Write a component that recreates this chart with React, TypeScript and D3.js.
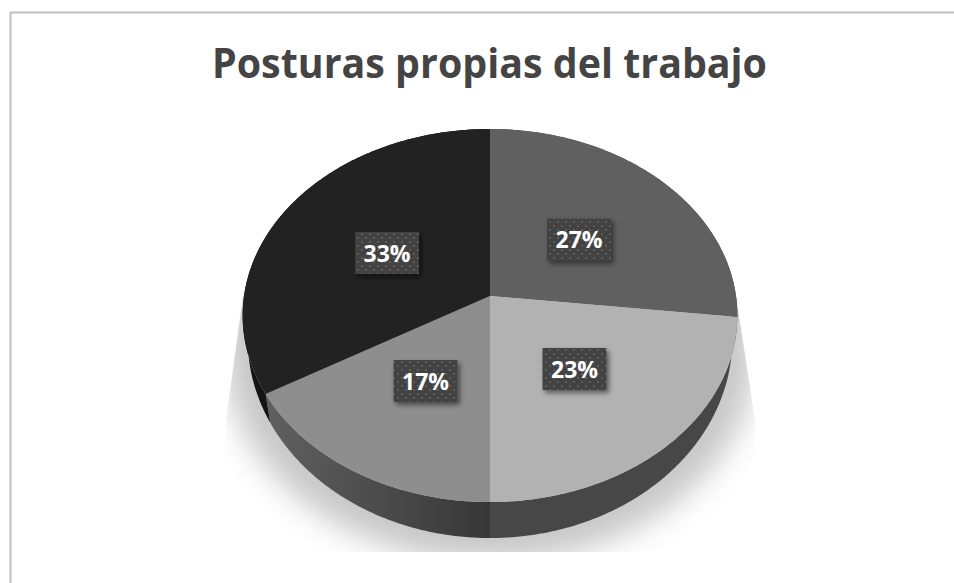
import React from "react";
import * as d3 from "d3";

const categories = ["A", "B", "C", "D"];
const shares = [26.8, 23.2, 16.6, 33.4];
const topColors = ["#606060", "#b2b2b2", "#8e8e8e", "#222222"];
const sideFills = ["#474747", "#474747", "url(#sideGrad)", "#141414"];
const titleText = "Posturas propias del trabajo";

const W = 954, H = 583;
const cx = 490;
const k = 0.1046;
type Rim = { r: number; cy: number; s: number };
const topRim: Rim = { r: 246, cy: 296, s: 184.5 };
const baseRim: Rim = { r: 241, cy: 318, s: 197 };
const shadowRim: Rim = { r: 264, cy: 330, s: 208 };

const project = (rim: Rim, a: number): [number, number] => {
  const d = 1 + k * Math.cos(a);
  return [cx + (rim.r * Math.sin(a)) / d, rim.cy - (rim.s * Math.cos(a)) / d];
};
const samples = (a0: number, a1: number) => {
  const n = Math.max(2, Math.ceil(Math.abs(a1 - a0) / 0.01));
  return d3.range(n + 1).map((i) => a0 + ((a1 - a0) * i) / n);
};
const line = d3.line<[number, number]>().curve(d3.curveLinear);

const arcs = d3.pie<number>().sort(null)(shares);
const pct = d3.format(".0%");

const topPath = (a0: number, a1: number) =>
  line([[cx, topRim.cy], ...samples(a0, a1).map((a) => project(topRim, a))])! + "Z";
const sidePath = (a0: number, a1: number) =>
  line([
    ...samples(a0, a1).map((a) => project(topRim, a)),
    ...samples(a1, a0).map((a) => project(baseRim, a)),
  ])! + "Z";
const shadowPath =
  line(samples(0, Math.PI * 2).map((a) => project(shadowRim, a)))! + "Z";

const labelCentres: [number, number][] = [
  [579, 239.5],
  [574.5, 369],
  [425.5, 381],
  [387, 253],
];
const labelW = 64, labelH = 42;

export default function App() {
  return (
    <svg
      width={W}
      height={H}
      viewBox={`0 0 ${W} ${H}`}
      style={{ position: "absolute", left: 0, top: 0, display: "block", background: "#fff" }}
    >
      <defs>
        <linearGradient id="sideGrad" gradientUnits="userSpaceOnUse" x1={266} x2={490} y1={0} y2={0}>
          <stop offset="0" stopColor="#606060" />
          <stop offset="1" stopColor="#373737" />
        </linearGradient>
        <pattern id="dots" width={8} height={8} patternUnits="userSpaceOnUse">
          <rect width={8} height={8} fill="#424242" />
          <rect x={1} y={1} width={2} height={2} fill="#5c5c5c" />
          <rect x={5} y={5} width={2} height={2} fill="#5c5c5c" />
        </pattern>
        <filter id="blur" x="-20%" y="-20%" width="140%" height="140%">
          <feGaussianBlur stdDeviation={15} />
        </filter>
        <filter id="labelShadow" x="-30%" y="-30%" width="170%" height="170%">
          <feDropShadow dx={2.5} dy={3} stdDeviation={2.5} floodColor="#000" floodOpacity={0.5} />
        </filter>
        <clipPath id="shadowClip">
          <polygon points="243,296 226,420 226,552 755,552 755,420 736,296" />
        </clipPath>
      </defs>

      <rect x={0} y={0} width={W} height={H} fill="#fff" />
      <path d={`M10.5,${H}V12.5H${W}`} fill="none" stroke="#bfbfbf" strokeWidth={2} />

      <text
        x={212}
        y={78}
        fontFamily="'Open Sans'"
        fontWeight={700}
        fontSize={41}
        fill="#444444"
        textLength={555}
        lengthAdjust="spacingAndGlyphs"
      >
        {titleText}
      </text>

      <g clipPath="url(#shadowClip)">
        <path d={shadowPath} fill="#c8c8c8" filter="url(#blur)" />
      </g>

      {arcs.map((d, i) =>
        <path key={"s" + categories[i]} d={sidePath(d.startAngle, d.endAngle)} fill={sideFills[i]} />
      )}
      {arcs.map((d, i) =>
        <path key={"t" + categories[i]} d={topPath(d.startAngle, d.endAngle)} fill={topColors[i]} />
      )}

      {shares.map((v, i) => {
        const [x, y] = labelCentres[i];
        return (
          <g key={categories[i]}>
            <rect
              x={x - labelW / 2}
              y={y - labelH / 2}
              width={labelW}
              height={labelH}
              fill="url(#dots)"
              filter="url(#labelShadow)"
            />
            <text
              x={x}
              y={y + 8.5}
              textAnchor="middle"
              fontFamily="'Open Sans'"
              fontWeight={700}
              fontSize={23}
              fill="#fff"
            >
              {pct(v / 100)}
            </text>
          </g>
        );
      })}
    </svg>
  );
}
